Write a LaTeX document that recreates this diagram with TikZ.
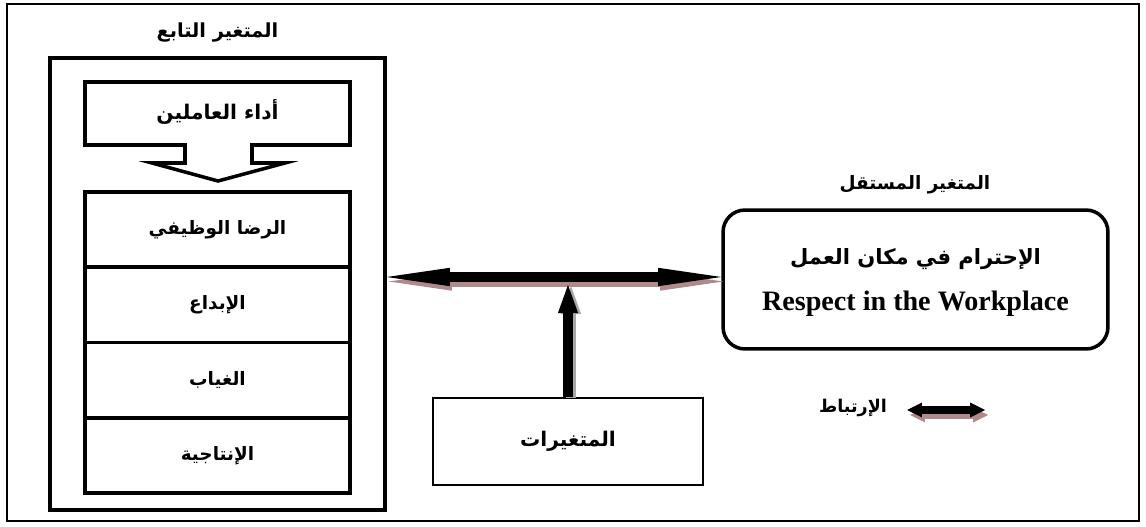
\documentclass[tikz,border=0pt]{standalone}
\usepackage{fontspec}
\setmainfont{Liberation Serif}
\newfontfamily\arabicfont[Script=Arabic]{DejaVu Sans}
\TeXXeTstate=1
\usetikzlibrary{arrows.meta,positioning}
\definecolor{vshadow}{HTML}{B08A8A}
\definecolor{vgray}{HTML}{A8A8A8}
\newcommand{\artext}[1]{{\arabicfont\bfseries\beginR #1\endR}}

\begin{document}
\begin{tikzpicture}[x=0.02cm, y=-0.02cm,
	cell/.style={draw, line width=2pt, minimum width=5.3cm, minimum height=1.505cm, inner sep=0pt, font=\fontsize{10.5}{12}\selectfont},
	title/.style={inner sep=0pt, font=\fontsize{10.5}{12}\selectfont},
	bigarrow/.style={line width=5.7pt, {Triangle[length=36pt, width=10.5pt, line width=0pt]}-{Triangle[length=36pt, width=10.5pt, line width=0pt]}},
	uparrow/.style={line width=5.7pt, -{Triangle[length=16pt, width=11.5pt, line width=0pt]}},
	legarrow/.style={line width=4.2pt, {Triangle[length=8.5pt, width=8.5pt, line width=0pt]}-{Triangle[length=8.5pt, width=8.5pt, line width=0pt]}}]
	\useasboundingbox (0,0) rectangle (1146,527);
	% outer frame
	\draw[line width=1.5pt] (7,4) rectangle (1139,521);
	% dependent variable
	\node[title, font=\fontsize{11}{13}\selectfont] (deptitle) at (217.5,33) {\artext{المتغير التابع}};
	\node[draw, line width=2pt, minimum width=6.7cm, minimum height=9.04cm] (dep) at (217.5,284) {};
	\draw[line width=2pt, fill=white] (85,82) -- (350,82) -- (350,145) -- (252,145) -- (252,163) -- (285,163)
		-- (218,181) -- (152,163) -- (185,163) -- (185,145) -- (85,145) -- cycle;
	\node[title, font=\fontsize{11.5}{13}\selectfont] (perf) at (217.5,112) {\artext{أداء العاملين}};
	\node[cell] (sat)  at (217.5,229.6) {\artext{الرضا الوظيفي}};
	\node[cell] (crea) at (217.5,304.9) {\artext{الإبداع}};
	\node[cell] (abs)  at (217.5,380.1) {\artext{الغياب}};
	\node[cell] (prod) at (217.5,455.4) {\artext{الإنتاجية}};
	% independent variable
	\node[title] (indtitle) at (915,185) {\artext{المتغير المستقل}};
	\node[draw, line width=2pt, rounded corners=0.44cm, minimum width=7.7cm, minimum height=2.78cm] (resp) at (915.5,279.5) {};
	\node[title, font=\fontsize{12}{14}\selectfont] (resptext) at (915.5,259) {\artext{الإحترام في مكان العمل}};
	\node[title, font=\bfseries\fontsize{16}{18}\selectfont] (respen) at (915.5,304) {Respect in the Workplace};
	% other variables
	\node[draw, line width=1.5pt, minimum width=5.4cm, minimum height=1.74cm, font=\fontsize{11.5}{13}\selectfont] (var) at (568,441.5) {\artext{المتغيرات}};
	\coordinate (left) at ([yshift=2.5*0.02cm]dep.east |- resp.west);
	\coordinate (right) at ([yshift=2.5*0.02cm]resp.west);
	% correlation arrow with shadow
	\draw[bigarrow, vshadow, transform canvas={xshift=0.04cm, yshift=-0.09cm}] (left) -- (right);
	\draw[bigarrow] (left) -- (right);
	\draw[uparrow, vgray, transform canvas={xshift=0.06cm, yshift=-0.02cm}] (var.north) -- ([yshift=-8*0.02cm]var.north |- left);
	\draw[uparrow] (var.north) -- ([yshift=-8*0.02cm]var.north |- left);
	% legend
	\node[title, font=\fontsize{10}{12}\selectfont] (leg) at (853,408) {\artext{الإرتباط}};
	\coordinate (legA) at (907,410);
	\coordinate (legB) at (985,410);
	\draw[legarrow, vshadow, transform canvas={xshift=0.06cm, yshift=-0.1cm}] (legA) -- (legB);
	\draw[legarrow] (legA) -- (legB);
\end{tikzpicture}
\end{document}
